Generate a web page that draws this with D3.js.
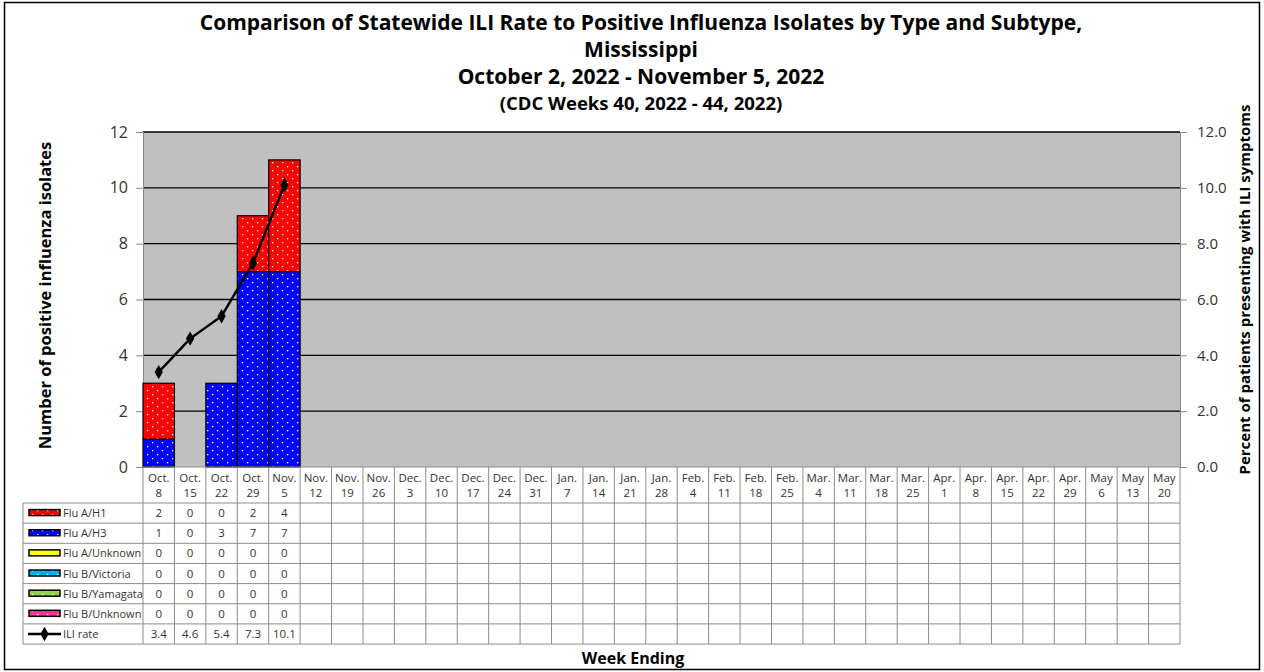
<!DOCTYPE html>
<html>
<head>
<meta charset="utf-8">
<script src="https://cdn.jsdelivr.net/npm/d3@7"></script>
<style>
  body { margin: 0; background: #fff; }
  svg text { font-family: "Open Sans", "Noto Sans", sans-serif; }
</style>
</head>
<body>
<div id="chart"></div>
<script>
// week ending labels (month + day)
const weeks = ['Oct. 8', 'Oct. 15', 'Oct. 22', 'Oct. 29', 'Nov. 5', 'Nov. 12', 'Nov. 19', 'Nov. 26',
  'Dec. 3', 'Dec. 10', 'Dec. 17', 'Dec. 24', 'Dec. 31', 'Jan. 7', 'Jan. 14', 'Jan. 21', 'Jan. 28',
  'Feb. 4', 'Feb. 11', 'Feb. 18', 'Feb. 25', 'Mar. 4', 'Mar. 11', 'Mar. 18', 'Mar. 25',
  'Apr. 1', 'Apr. 8', 'Apr. 15', 'Apr. 22', 'Apr. 29', 'May 6', 'May 13', 'May 20'];

const fluAH1 = [2, 0, 0, 2, 4];
const fluAH3 = [1, 0, 3, 7, 7];
const fluAUnknown = [0, 0, 0, 0, 0];
const fluBVictoria = [0, 0, 0, 0, 0];
const fluBYamagata = [0, 0, 0, 0, 0];
const fluBUnknown = [0, 0, 0, 0, 0];
const iliRate = [3.4, 4.6, 5.4, 7.3, 10.1];

const leftTicks = [0, 2, 4, 6, 8, 10, 12];
const rightTicks = [0, 2, 4, 6, 8, 10, 12];

// series in stacking order (bottom first), table order kept separately
const series = [
  { name: 'Flu A/H3', values: fluAH3, color: '#0000ff' },
  { name: 'Flu A/H1', values: fluAH1, color: '#ff0000' },
  { name: 'Flu A/Unknown', values: fluAUnknown, color: '#ffff00' },
  { name: 'Flu B/Victoria', values: fluBVictoria, color: '#00b0f0' },
  { name: 'Flu B/Yamagata', values: fluBYamagata, color: '#92d050' },
  { name: 'Flu B/Unknown', values: fluBUnknown, color: '#ff3399' }
];
const tableOrder = ['Flu A/H1', 'Flu A/H3', 'Flu A/Unknown', 'Flu B/Victoria', 'Flu B/Yamagata', 'Flu B/Unknown'];

const W = 1264, H = 672;
const plot = { left: 143, right: 1180, top: 132, bottom: 467 };

const svg = d3.select('#chart').append('svg')
  .attr('width', W)
  .attr('height', H);

// dotted fill patterns
const defs = svg.append('defs');
series.forEach((s, i) => {
  const p = defs.append('pattern')
    .attr('id', 'pat' + i)
    .attr('patternUnits', 'userSpaceOnUse')
    .attr('width', 10)
    .attr('height', 8);
  p.append('rect').attr('width', 10).attr('height', 8).attr('fill', s.color);
  p.append('rect').attr('x', 2).attr('y', 2).attr('width', 1.3).attr('height', 1.3).attr('fill', '#fff');
  p.append('rect').attr('x', 7).attr('y', 6).attr('width', 1.3).attr('height', 1.3).attr('fill', '#fff');
});

// outer frame
svg.append('rect')
  .attr('x', 4.5).attr('y', 2.5)
  .attr('width', W - 9).attr('height', H - 5)
  .attr('fill', 'none')
  .attr('stroke', '#000')
  .attr('stroke-width', 1.5);

// titles
const titles = [
  { t: 'Comparison of Statewide ILI Rate to Positive Influenza Isolates by Type and Subtype,', y: 30, s: 21 },
  { t: 'Mississippi', y: 57, s: 21 },
  { t: 'October 2, 2022 - November 5, 2022', y: 84, s: 21 },
  { t: '(CDC Weeks 40, 2022 - 44, 2022)', y: 110, s: 18.5 }
];
svg.selectAll('.title')
  .data(titles)
  .enter().append('text')
  .attr('class', 'title')
  .attr('x', 641)
  .attr('y', d => d.y)
  .attr('text-anchor', 'middle')
  .style('font-size', d => d.s + 'px')
  .style('font-weight', 'bold')
  .text(d => d.t);

const x = d3.scaleBand()
  .domain(weeks)
  .range([plot.left, plot.right])
  .padding(0);

const y = d3.scaleLinear()
  .domain([0, 12])
  .range([plot.bottom, plot.top]);

const y2 = d3.scaleLinear()
  .domain([0, 12])
  .range([plot.bottom, plot.top]);

// plot background
svg.append('rect')
  .attr('x', plot.left).attr('y', plot.top)
  .attr('width', plot.right - plot.left)
  .attr('height', plot.bottom - plot.top)
  .attr('fill', '#c0c0c0');

// gridlines
svg.append('g')
  .selectAll('line')
  .data(leftTicks.filter(d => d > 0))
  .enter().append('line')
  .attr('x1', plot.left).attr('x2', plot.right)
  .attr('y1', d => y(d)).attr('y2', d => y(d))
  .attr('stroke', '#000')
  .attr('stroke-width', 1.3);

// left axis
const leftAxis = svg.append('g')
  .attr('transform', 'translate(' + plot.left + ',0)')
  .call(d3.axisLeft(y).tickValues(leftTicks).tickSize(7).tickPadding(8).tickFormat(d3.format('d')));
leftAxis.select('.domain').attr('stroke', '#888');
leftAxis.selectAll('.tick line').attr('stroke', '#888');
leftAxis.selectAll('text').style('font-size', '16px').attr('fill', '#333');

// right axis
const rightAxis = svg.append('g')
  .attr('transform', 'translate(' + plot.right + ',0)')
  .call(d3.axisRight(y2).tickValues(rightTicks).tickSize(7).tickPadding(10).tickFormat(d3.format('.1f')));
rightAxis.select('.domain').attr('stroke', '#888');
rightAxis.selectAll('.tick line').attr('stroke', '#888');
rightAxis.selectAll('text').style('font-size', '15px').attr('fill', '#333');

// stacked bars
const stackRows = weeks.map((w, i) => {
  const row = { week: w };
  series.forEach(s => { row[s.name] = s.values[i] || 0; });
  return row;
});
const stacked = d3.stack().keys(series.map(s => s.name))(stackRows);

stacked.forEach((layer, si) => {
  svg.append('g')
    .selectAll('rect')
    .data(layer.filter(d => d[1] - d[0] > 0))
    .enter().append('rect')
    .attr('x', d => x(d.data.week))
    .attr('width', x.bandwidth())
    .attr('y', d => y(d[1]))
    .attr('height', d => y(d[0]) - y(d[1]))
    .attr('fill', 'url(#pat' + si + ')')
    .attr('stroke', '#000')
    .attr('stroke-width', 1.2);
});

// ILI line
const iliData = iliRate.map((v, i) => ({ week: weeks[i], value: v }));
const line = d3.line()
  .x(d => x(d.week) + x.bandwidth() / 2)
  .y(d => y2(d.value));

svg.append('path')
  .datum(iliData)
  .attr('fill', 'none')
  .attr('stroke', '#000')
  .attr('stroke-width', 2.5)
  .attr('d', line);

const diamond = d3.symbol().type(d3.symbolDiamond).size(60);
svg.append('g')
  .selectAll('path')
  .data(iliData)
  .enter().append('path')
  .attr('d', diamond)
  .attr('transform', d => 'translate(' + (x(d.week) + x.bandwidth() / 2) + ',' + y2(d.value) + ')')
  .attr('fill', '#000');

// axis titles
svg.append('text')
  .attr('transform', 'translate(51,' + ((plot.top + plot.bottom) / 2 - 4) + ') rotate(-90)')
  .attr('text-anchor', 'middle')
  .style('font-size', '16.5px')
  .style('font-weight', 'bold')
  .text('Number of positive influenza isolates');

svg.append('text')
  .attr('transform', 'translate(1250,' + ((plot.top + plot.bottom) / 2 - 10) + ') rotate(-90)')
  .attr('text-anchor', 'middle')
  .style('font-size', '15px')
  .style('font-weight', 'bold')
  .text('Percent of patients presenting with ILI symptoms');

svg.append('text')
  .attr('x', 633)
  .attr('y', 664)
  .attr('text-anchor', 'middle')
  .style('font-size', '16px')
  .style('font-weight', 'bold')
  .text('Week Ending');

// data table
const headTop = plot.bottom, headBottom = 503, rowH = 20.15;
const legLeft = 23;
const rows = tableOrder.map(n => series.find(s => s.name === n)).concat([{ name: 'ILI rate', values: iliRate, line: true }]);
const tableBottom = headBottom + rows.length * rowH;
const grid = svg.append('g').attr('stroke', '#8c8c8c').attr('stroke-width', 1);

// cell verticals
weeks.concat(['end']).forEach((w, i) => {
  const xx = i < weeks.length ? x(w) : plot.right;
  grid.append('line')
    .attr('x1', xx).attr('x2', xx)
    .attr('y1', headTop).attr('y2', tableBottom);
});
grid.append('line')
  .attr('x1', legLeft).attr('x2', legLeft)
  .attr('y1', headBottom).attr('y2', tableBottom);
grid.append('line')
  .attr('x1', plot.left).attr('x2', plot.right)
  .attr('y1', headTop).attr('y2', headTop);
d3.range(rows.length + 1).forEach(i => {
  grid.append('line')
    .attr('x1', legLeft).attr('x2', plot.right)
    .attr('y1', headBottom + i * rowH).attr('y2', headBottom + i * rowH);
});

// header labels
const head = svg.append('g')
  .selectAll('g')
  .data(weeks)
  .enter().append('g')
  .attr('transform', d => 'translate(' + (x(d) + x.bandwidth() / 2) + ',0)');
head.append('text')
  .attr('y', headTop + 15)
  .attr('text-anchor', 'middle')
  .style('font-size', '11.5px')
  .attr('fill', '#333')
  .text(d => d.split(' ')[0]);
head.append('text')
  .attr('y', headTop + 30)
  .attr('text-anchor', 'middle')
  .style('font-size', '11.5px')
  .attr('fill', '#333')
  .text(d => d.split(' ')[1]);

// table rows
rows.forEach((r, ri) => {
  const cy = headBottom + ri * rowH + rowH / 2;
  if (r.line) {
    svg.append('line')
      .attr('x1', 28).attr('x2', 61)
      .attr('y1', cy).attr('y2', cy)
      .attr('stroke', '#000').attr('stroke-width', 2.5);
    svg.append('path')
      .attr('d', diamond)
      .attr('transform', 'translate(44.5,' + cy + ')')
      .attr('fill', '#000');
  } else {
    const si = series.indexOf(r);
    svg.append('rect')
      .attr('x', 29).attr('y', cy - 3.5)
      .attr('width', 31).attr('height', 6)
      .attr('fill', 'url(#pat' + si + ')')
      .attr('stroke', '#000')
      .attr('stroke-width', 1.5);
  }
  svg.append('text')
    .attr('x', 63)
    .attr('y', cy + 4)
    .style('font-size', '11px')
    .attr('fill', '#333')
    .text(r.name);
  svg.append('g')
    .selectAll('text')
    .data(r.values)
    .enter().append('text')
    .attr('x', (d, i) => x(weeks[i]) + x.bandwidth() / 2)
    .attr('y', cy + 4)
    .attr('text-anchor', 'middle')
    .style('font-size', '11.5px')
    .attr('fill', '#333')
    .text(d => r.line ? d3.format('.1f')(d) : d);
});
</script>
</body>
</html>
